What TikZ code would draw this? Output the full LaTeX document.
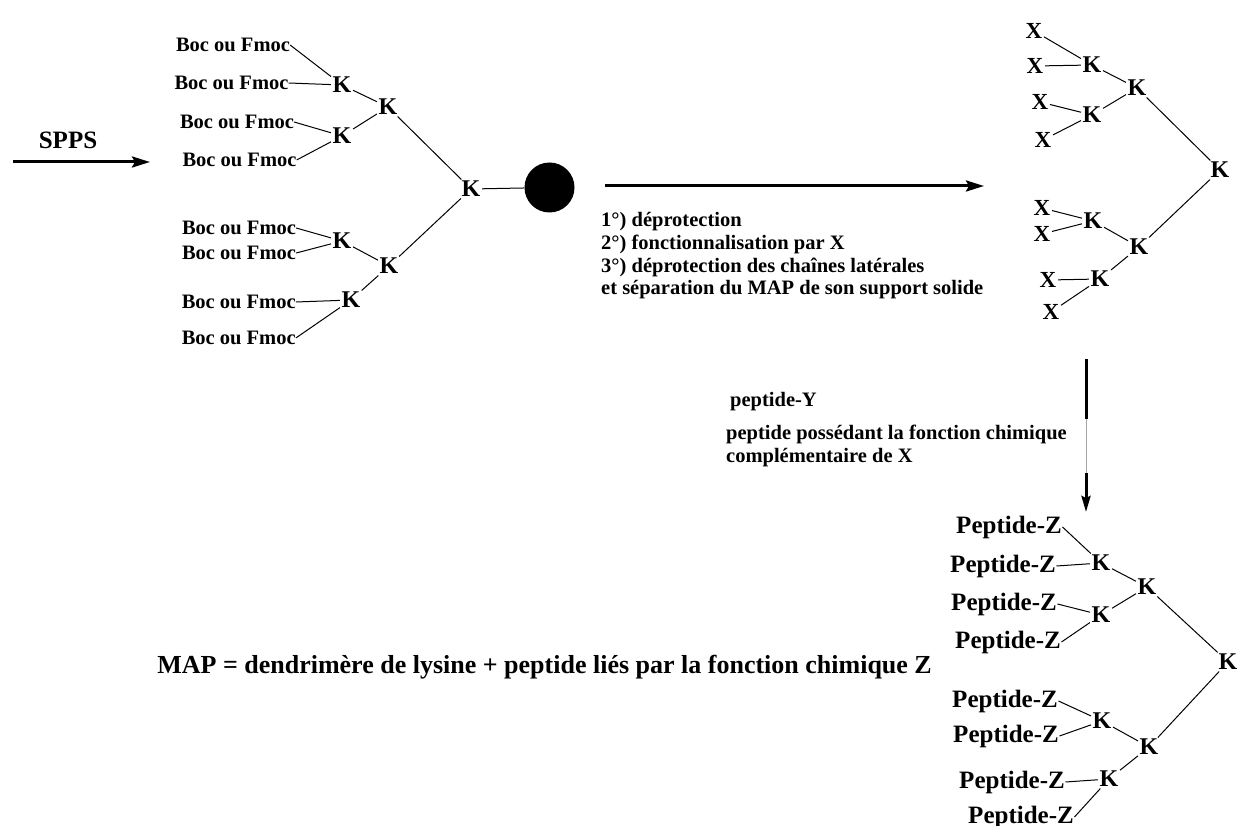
\documentclass[tikz,border=0pt]{standalone}
\usepackage{fontspec}
\setmainfont{Liberation Serif}
\usetikzlibrary{arrows.meta}
\begin{document}
\begin{tikzpicture}[x=1pt,y=-1pt,
  lbl/.style={font=\bfseries\fontsize{20.5}{22.7}\selectfont, inner sep=0pt},
  txt/.style={font=\bfseries\fontsize{20.5}{22.7}\selectfont, inner sep=0pt, align=left, anchor=base west},
  kk/.style={font=\bfseries\fontsize{24}{26}\selectfont, inner sep=1.5pt},
  xx/.style={font=\bfseries\fontsize{23}{25}\selectfont, inner sep=1.5pt},
  pz/.style={font=\bfseries\fontsize{25}{27}\selectfont, inner sep=0.5pt, anchor=base},
  big/.style={font=\bfseries\fontsize{25}{27}\selectfont, inner sep=0pt},
  bond/.style={line width=1pt},
  bigarrow/.style={line width=3pt, -{Stealth[length=18pt,width=11pt,inset=3pt]}},
]
\useasboundingbox[fill=white] (0,0) rectangle (1237,826);

% ---------- SPPS arrow ----------
\node[big] (spps) at (68,140) {SPPS};
\coordinate (a0s) at (13,162);
\coordinate (a0e) at (150,162);
\draw[bigarrow] (a0s) -- (a0e);

% ---------- left tree ----------
\node[lbl] (b1) at (233,45) {Boc ou Fmoc};
\node[lbl] (b2) at (231.5,83) {Boc ou Fmoc};
\node[lbl] (b3) at (237,122) {Boc ou Fmoc};
\node[lbl] (b4) at (239.5,160) {Boc ou Fmoc};
\node[lbl] (b5) at (239,228) {Boc ou Fmoc};
\node[lbl] (b6) at (239,253) {Boc ou Fmoc};
\node[lbl] (b7) at (238.7,302) {Boc ou Fmoc};
\node[lbl] (b8) at (238.7,338) {Boc ou Fmoc};
\node[kk] (k1) at (342,85) {K};
\node[kk] (k3) at (342,136) {K};
\node[kk] (k2) at (388,107) {K};
\node[kk] (kc) at (471,189) {K};
\node[kk] (k4) at (342,241) {K};
\node[kk] (k6) at (351,300) {K};
\node[kk] (k5) at (389,266) {K};
\node[circle, fill=black, minimum size=50pt, inner sep=0pt] (ball) at (549.5,187.5) {};

\draw[bond] (b1.east) -- (k1);
\draw[bond] (b2.east) -- (k1);
\draw[bond] (b3.east) -- (k3);
\draw[bond] (b4.east) -- (k3);
\draw[bond] (k1) -- (k2);
\draw[bond] (k3) -- (k2);
\draw[bond] (k2) -- (kc);
\draw[bond] (kc) -- (ball);
\draw[bond] (kc) -- (k5);
\draw[bond] (k4) -- (k5);
\draw[bond] (k6) -- (k5);
\draw[bond] (b5.east) -- (k4);
\draw[bond] (b6.east) -- (k4);
\draw[bond] (b7.east) -- (k6);
\draw[bond] (b8.east) -- (k6);

% ---------- middle arrow ----------
\coordinate (a1s) at (605,186);
\coordinate (a1e) at (984,186);
\draw[bigarrow] (a1s) -- (a1e);
\node[txt] (steps) at (601,295) {1°) déprotection\\2°) fonctionnalisation par X\\3°) déprotection des chaînes latérales\\et séparation du MAP de son support solide};

% ---------- top right tree ----------
\node[xx] (x1) at (1034,31) {X};
\node[xx] (x2) at (1035,66) {X};
\node[xx] (x3) at (1040,102) {X};
\node[xx] (x4) at (1043,140) {X};
\node[xx] (x5) at (1042,208) {X};
\node[xx] (x6) at (1042,234) {X};
\node[xx] (x7) at (1048,280) {X};
\node[xx] (x8) at (1051,312) {X};
\node[kk] (ra) at (1092,65) {K};
\node[kk] (rc) at (1092,115) {K};
\node[kk] (rb) at (1137,88) {K};
\node[kk] (rr) at (1220,170) {K};
\node[kk] (rd) at (1093,221) {K};
\node[kk] (re) at (1100,279) {K};
\node[kk] (rf) at (1139,247) {K};

\draw[bond] (x1) -- (ra);
\draw[bond] (x2) -- (ra);
\draw[bond] (x3) -- (rc);
\draw[bond] (x4) -- (rc);
\draw[bond] (ra) -- (rb);
\draw[bond] (rc) -- (rb);
\draw[bond] (rb) -- (rr);
\draw[bond] (rr) -- (rf);
\draw[bond] (rd) -- (rf);
\draw[bond] (re) -- (rf);
\draw[bond] (x5) -- (rd);
\draw[bond] (x6) -- (rd);
\draw[bond] (x7) -- (re);
\draw[bond] (x8) -- (re);

% ---------- vertical arrow ----------
\coordinate (v0) at (1086,359);
\coordinate (v1) at (1086,419);
\coordinate (v2) at (1086,473);
\coordinate (v3) at (1086,512);
\draw[line width=3pt] (v0) -- (v1);
\draw[line width=0.6pt, black!35] (v1) -- (v2);
\draw[line width=3pt, -{Stealth[length=16pt,width=9pt,inset=2pt]}] (v2) -- (v3);
\node[txt] (py) at (730,406) {peptide-Y};
\node[txt] (pdesc) at (726,462) {peptide possédant la fonction chimique\\complémentaire de X};

% ---------- bottom tree ----------
\node[pz] (p1) at (1009,533) {Peptide-Z};
\node[pz] (p2) at (1003,572) {Peptide-Z};
\node[pz] (p3) at (1004,610) {Peptide-Z};
\node[pz] (p4) at (1008,648) {Peptide-Z};
\node[pz] (p5) at (1005,707) {Peptide-Z};
\node[pz] (p6) at (1006,742) {Peptide-Z};
\node[pz] (p7) at (1012,788) {Peptide-Z};
\node[pz] (p8) at (1021,823) {Peptide-Z};
\node[kk] (qa) at (1101,563) {K};
\node[kk] (qc) at (1101,615) {K};
\node[kk] (qb) at (1147,587) {K};
\node[kk] (qr) at (1228,662) {K};
\node[kk] (qd) at (1102,721) {K};
\node[kk] (qe) at (1109,779) {K};
\node[kk] (qf) at (1149,747) {K};

\draw[bond] (p1.east) -- (qa);
\draw[bond] (p2.east) -- (qa);
\draw[bond] (p3.east) -- (qc);
\draw[bond] (p4.east) -- (qc);
\draw[bond] (qa) -- (qb);
\draw[bond] (qc) -- (qb);
\draw[bond] (qb) -- (qr);
\draw[bond] (qr) -- (qf);
\draw[bond] (qd) -- (qf);
\draw[bond] (qe) -- (qf);
\draw[bond] (p5.east) -- (qd);
\draw[bond] (p6.east) -- (qd);
\draw[bond] (p7.east) -- (qe);
\draw[bond] (p8.east) -- (qe);

% ---------- MAP definition ----------
\node[font=\bfseries\fontsize{26}{28}\selectfont, inner sep=0pt, anchor=base east] (map) at (932,673) {MAP = dendrimère de lysine + peptide liés par la fonction chimique Z};
\end{tikzpicture}
\end{document}
